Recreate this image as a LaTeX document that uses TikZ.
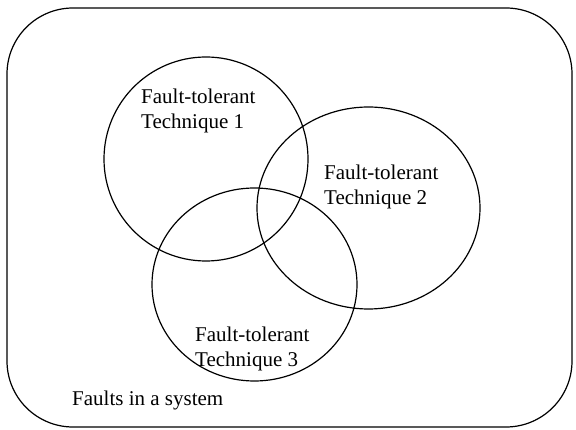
\documentclass[tikz,border=0pt]{standalone}
\usepackage{fontspec}
\setmainfont{Liberation Serif}
\usetikzlibrary{shapes.geometric}
\begin{document}
\begin{tikzpicture}[x=1pt, y=-1pt,
  ring/.style={draw, ellipse, line width=1.2pt, inner sep=0pt},
  label/.style={anchor=base west, align=left, inner sep=0pt,
    font=\fontsize{21}{24.5}\selectfont}]
  \useasboundingbox (0,0) rectangle (576,430);
  % system boundary
  \draw[line width=1.2pt, rounded corners=66pt] (7,8) rectangle (572,427);
  % the three technique regions
  \node[ring, minimum width=204pt, minimum height=204pt] (t1) at (206,159) {};
  \node[ring, minimum width=223pt, minimum height=202pt] (t2) at (368.5,208) {};
  \node[ring, minimum width=205pt, minimum height=193pt] (t3) at (254.5,284.5) {};
  % labels (anchored on the baseline of the last line)
  \node[label] (l1) at (141,128.5) {Fault-tolerant\\Technique 1};
  \node[label] (l2) at (324,204.5) {Fault-tolerant\\Technique 2};
  \node[label] (l3) at (195,366.5) {Fault-tolerant\\Technique 3};
  \node[label] (ls) at (72,406) {Faults in a system};
\end{tikzpicture}
\end{document}
